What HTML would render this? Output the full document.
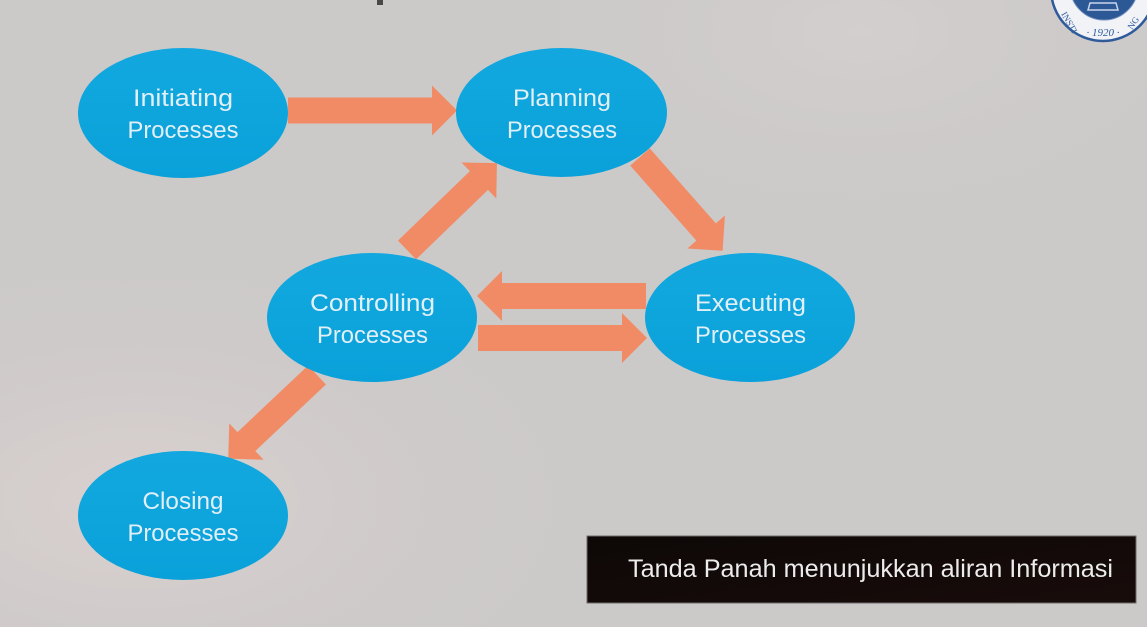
<!DOCTYPE html>
<html>
<head>
<meta charset="utf-8">
<style>
  html, body { margin: 0; padding: 0; }
  body { width: 1147px; height: 627px; overflow: hidden; background: #ccc9c9; }
  svg { display: block; }
</style>
</head>
<body>
<svg width="1147" height="627" viewBox="0 0 1147 627" xmlns="http://www.w3.org/2000/svg">
  <defs>
    <radialGradient id="bg1" cx="0.12" cy="0.8" r="0.45">
      <stop offset="0" stop-color="#dad1cf" stop-opacity="1"/>
      <stop offset="1" stop-color="#ccc9c9" stop-opacity="0"/>
    </radialGradient>
    <radialGradient id="bg2" cx="0.75" cy="0.05" r="0.35">
      <stop offset="0" stop-color="#d3cfce" stop-opacity="1"/>
      <stop offset="1" stop-color="#ccc9c9" stop-opacity="0"/>
    </radialGradient>
    <linearGradient id="ell" x1="0" y1="0" x2="0" y2="1">
      <stop offset="0" stop-color="#12a8df"/>
      <stop offset="1" stop-color="#0aa1da"/>
    </linearGradient>
    <linearGradient id="box" x1="0" y1="0" x2="1" y2="1">
      <stop offset="0" stop-color="#0d0807"/>
      <stop offset="1" stop-color="#180c0a"/>
    </linearGradient>
  </defs>

  <!-- background -->
  <rect x="0" y="0" width="1147" height="627" fill="#ccc9c9"/>
  <rect x="0" y="0" width="1147" height="627" fill="url(#bg1)"/>
  <rect x="0" y="0" width="1147" height="627" fill="url(#bg2)"/>

  <!-- partial title glyph at top -->
  <rect x="377" y="0" width="6" height="5" fill="#4a4748"/>

  <!-- logo seal top-right -->
  <g>
    <circle cx="1103" cy="-11" r="52" fill="#f1f3f7" stroke="#2f5b9b" stroke-width="2.5"/>
    <circle cx="1104" cy="-14" r="34" fill="#2c5896" stroke="#6f8fbf" stroke-width="1"/>
    <path d="M1090 3 L1116 3 L1118 10 L1088 10 Z" fill="none" stroke="#c9d5ea" stroke-width="1.5"/>
    <text x="1103" y="36" font-family="Liberation Serif, serif" font-style="italic" font-size="11" fill="#2f5b9b" text-anchor="middle">· 1920 ·</text>
    <text x="1061" y="14" font-family="Liberation Serif, serif" font-size="9" fill="#2f5b9b" transform="rotate(60 1061 14)">INSTI</text>
    <text x="1132" y="30" font-family="Liberation Serif, serif" font-size="9" fill="#2f5b9b" transform="rotate(-55 1132 30)">NG</text>
  </g>

  <!-- arrows (drawn behind ellipses) -->
  <g fill="#f18b65">
    <g transform="translate(288 110.5)">
      <polygon points="0,-13 144,-13 144,-25 169,0 144,25 144,13 0,13"/>
    </g>
    <g transform="translate(478 338)">
      <polygon points="0,-13 144,-13 144,-25 169,0 144,25 144,13 0,13"/>
    </g>
    <g transform="translate(646 296) rotate(180)">
      <polygon points="0,-13 144,-13 144,-25 169,0 144,25 144,13 0,13"/>
    </g>
    <g transform="translate(407 250) rotate(-44)">
      <polygon points="0,-13 100,-13 100,-25 125,0 100,25 100,13 0,13"/>
    </g>
    <g transform="translate(640 157) rotate(48.6)">
      <polygon points="0,-13 100,-13 100,-25 125,0 100,25 100,13 0,13"/>
    </g>
    <g transform="translate(317 375) rotate(136.7)">
      <polygon points="0,-13 97,-13 97,-25 122,0 97,25 97,13 0,13"/>
    </g>
  </g>

  <!-- ellipses -->
  <g fill="url(#ell)">
    <ellipse cx="183" cy="113" rx="105" ry="65"/>
    <ellipse cx="561.5" cy="112.5" rx="105.5" ry="64.5"/>
    <ellipse cx="372" cy="317.5" rx="105" ry="64.5"/>
    <ellipse cx="750" cy="317.5" rx="105" ry="64.5"/>
    <ellipse cx="183" cy="515.5" rx="105" ry="64.5"/>
  </g>

  <!-- ellipse labels -->
  <g font-family="Liberation Sans, sans-serif" font-size="24" fill="#e2eff6" text-anchor="middle">
    <text x="183" y="106" textLength="100" lengthAdjust="spacingAndGlyphs">Initiating</text>
    <text x="183" y="138" textLength="111" lengthAdjust="spacingAndGlyphs">Processes</text>

    <text x="562" y="106" textLength="98" lengthAdjust="spacingAndGlyphs">Planning</text>
    <text x="562" y="138" textLength="110" lengthAdjust="spacingAndGlyphs">Processes</text>

    <text x="372.5" y="311" textLength="125" lengthAdjust="spacingAndGlyphs">Controlling</text>
    <text x="372.5" y="343" textLength="111" lengthAdjust="spacingAndGlyphs">Processes</text>

    <text x="750.5" y="311" textLength="111" lengthAdjust="spacingAndGlyphs">Executing</text>
    <text x="750.5" y="343" textLength="111" lengthAdjust="spacingAndGlyphs">Processes</text>

    <text x="183" y="509" textLength="81" lengthAdjust="spacingAndGlyphs">Closing</text>
    <text x="183" y="541" textLength="111" lengthAdjust="spacingAndGlyphs">Processes</text>
  </g>

  <!-- caption box -->
  <rect x="587" y="536" width="549" height="67" fill="url(#box)" stroke="#6e6a6a" stroke-width="1"/>
  <text x="628" y="577" font-family="Liberation Sans, sans-serif" font-size="25" fill="#ececec" textLength="485" lengthAdjust="spacingAndGlyphs">Tanda Panah menunjukkan aliran Informasi</text>
</svg>
</body>
</html>
